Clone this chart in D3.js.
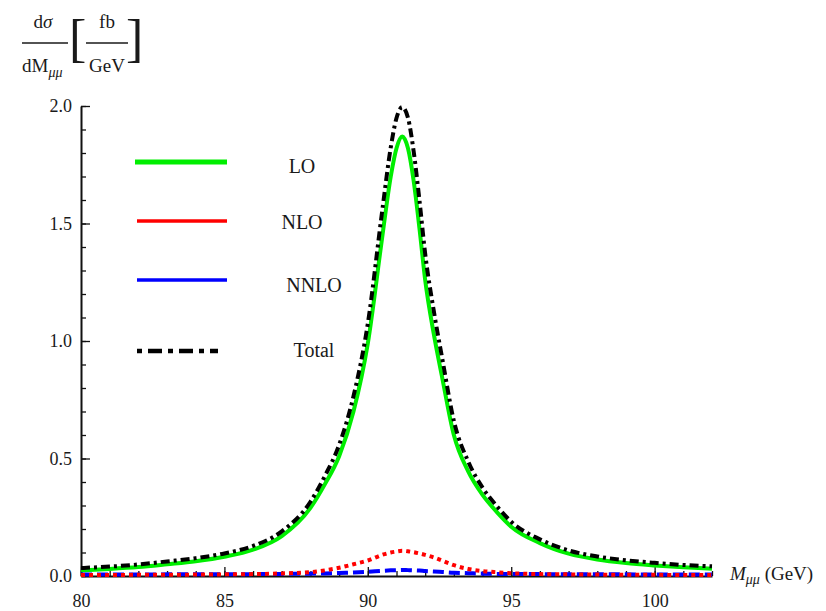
<!DOCTYPE html>
<html>
<head>
<meta charset="utf-8">
<script src="https://cdn.jsdelivr.net/npm/d3@7"></script>
<style>
  body { margin: 0; background: #fff; }
  text { font-family: "Liberation Serif", "DejaVu Serif", serif; fill: #1a1a1a; }
</style>
</head>
<body>
<script>
// values
var mass  = [80, 81, 82, 83, 84, 85, 86, 87, 88, 88.5, 89, 89.5, 90, 90.5, 90.8, 91, 91.2, 91.4, 91.6, 91.8, 92, 92.3, 92.6, 93, 93.5, 94, 94.5, 95, 96, 97, 98, 99, 100, 101, 102];
var lo    = [0.024, 0.030, 0.038, 0.050, 0.063, 0.082, 0.112, 0.170, 0.290, 0.390, 0.510, 0.700, 0.990, 1.440, 1.700, 1.820, 1.870, 1.820, 1.680, 1.480, 1.260, 1.030, 0.840, 0.600, 0.445, 0.345, 0.272, 0.210, 0.140, 0.095, 0.070, 0.055, 0.045, 0.037, 0.031];
var nlo   = [0.004, 0.004, 0.005, 0.005, 0.006, 0.007, 0.008, 0.011, 0.016, 0.024, 0.035, 0.050, 0.066, 0.090, 0.100, 0.104, 0.107, 0.105, 0.101, 0.096, 0.090, 0.079, 0.065, 0.046, 0.030, 0.021, 0.016, 0.012, 0.008, 0.007, 0.006, 0.005, 0.005, 0.004, 0.004];
var nnlo  = [0.006, 0.006, 0.006, 0.007, 0.007, 0.007, 0.008, 0.009, 0.010, 0.011, 0.013, 0.015, 0.018, 0.022, 0.024, 0.025, 0.026, 0.025, 0.024, 0.023, 0.021, 0.019, 0.017, 0.014, 0.012, 0.010, 0.009, 0.009, 0.008, 0.007, 0.007, 0.007, 0.006, 0.006, 0.006];
var total = [0.034, 0.040, 0.049, 0.062, 0.076, 0.096, 0.128, 0.190, 0.316, 0.425, 0.558, 0.765, 1.074, 1.552, 1.824, 1.949, 1.995, 1.950, 1.805, 1.599, 1.371, 1.128, 0.922, 0.660, 0.487, 0.376, 0.297, 0.231, 0.156, 0.109, 0.083, 0.067, 0.056, 0.047, 0.041];

var seriesNames = ["LO", "NLO", "NNLO", "Total"];
var xTicks = [80, 85, 90, 95, 100];
var yTicks = [0, 0.5, 1.0, 1.5, 2.0];

var width = 826, height = 611;

var svg = d3.select("body").append("svg")
    .attr("width", width)
    .attr("height", height);

var x = d3.scaleLinear().domain([80, 102]).range([81, 712]);
var y = d3.scaleLinear().domain([0, 2]).range([576, 106]);

// minor ticks
svg.append("g")
    .attr("transform", "translate(0," + y(0) + ")")
    .call(d3.axisBottom(x).tickValues(d3.range(80, 103, 1)).tickSize(-5).tickSizeOuter(0).tickFormat(""))
    .call(function(g) { g.select(".domain").remove(); });
svg.append("g")
    .attr("transform", "translate(" + x(80) + ",0)")
    .call(d3.axisLeft(y).tickValues(d3.range(0, 21).map(function(i) { return i / 10; })).tickSize(-5).tickSizeOuter(0).tickFormat(""))
    .call(function(g) { g.select(".domain").remove(); });

// main axes
var xAxis = svg.append("g")
    .attr("transform", "translate(0," + y(0) + ")")
    .call(d3.axisBottom(x).tickValues(xTicks).tickSize(-9).tickSizeOuter(0).tickPadding(18).tickFormat(d3.format("d")));
var yAxis = svg.append("g")
    .attr("transform", "translate(" + x(80) + ",0)")
    .call(d3.axisLeft(y).tickValues(yTicks).tickSize(-9).tickSizeOuter(0).tickPadding(9).tickFormat(d3.format(".1f")));

svg.selectAll(".domain").attr("stroke", "#111").attr("stroke-width", 2);
svg.selectAll(".tick line").attr("stroke", "#111").attr("stroke-width", 1.3);
svg.selectAll(".tick text").attr("font-size", 18).attr("fill", "#1a1a1a")
    .style("font-family", "'Liberation Serif', serif");

// curves
var rows = mass.map(function(m, i) {
    return { m: m, LO: lo[i], NLO: nlo[i], NNLO: nnlo[i], Total: total[i] };
});

var styles = {
    LO:    { color: "#00ee00", width: 4,   dash: null },
    NLO:   { color: "#ff0000", width: 4,   dash: "4,4" },
    NNLO:  { color: "#0000ff", width: 4,   dash: "11,5" },
    Total: { color: "#000000", width: 4,   dash: "9,4,3,4" }
};

var drawOrder = ["LO", "NNLO", "NLO", "Total"];
drawOrder.forEach(function(key) {
    var line = d3.line()
        .x(function(d) { return x(d.m); })
        .y(function(d) { return y(d[key]); })
        .curve(d3.curveMonotoneX);
    svg.append("path")
        .datum(rows)
        .attr("fill", "none")
        .attr("stroke", styles[key].color)
        .attr("stroke-width", styles[key].width)
        .attr("stroke-dasharray", styles[key].dash)
        .attr("d", line);
});

// legend
var legendLayout = [
    { y: 162, x1: 135, x2: 227, w: 5,   tx: 302, ty: 173, dash: null },
    { y: 221, x1: 137, x2: 227, w: 3.5, tx: 302, ty: 229, dash: null },
    { y: 280, x1: 137, x2: 227, w: 3.5, tx: 314, ty: 292, dash: null },
    { y: 351, x1: 137, x2: 218, w: 4.5, tx: 314, ty: 357, dash: "5,6,14,6" }
];
var legend = svg.append("g").selectAll("g")
    .data(seriesNames)
    .enter().append("g");
legend.append("line")
    .attr("x1", function(d, i) { return legendLayout[i].x1; })
    .attr("x2", function(d, i) { return legendLayout[i].x2; })
    .attr("y1", function(d, i) { return legendLayout[i].y; })
    .attr("y2", function(d, i) { return legendLayout[i].y; })
    .attr("stroke", function(d) { return styles[d].color; })
    .attr("stroke-width", function(d, i) { return legendLayout[i].w; })
    .attr("stroke-dasharray", function(d, i) { return legendLayout[i].dash; });
legend.append("text")
    .attr("x", function(d, i) { return legendLayout[i].tx; })
    .attr("y", function(d, i) { return legendLayout[i].ty; })
    .attr("text-anchor", "middle")
    .attr("font-size", 20)
    .text(function(d) { return d; });

// y label: dσ/dMμμ [fb/GeV]
var yl = svg.append("g").attr("font-size", 19);
var t1 = yl.append("text").attr("x", 43).attr("y", 28).attr("text-anchor", "middle");
t1.append("tspan").text("d");
t1.append("tspan").attr("font-style", "italic").text("σ");
yl.append("line").attr("x1", 22).attr("x2", 68).attr("y1", 43).attr("y2", 43)
    .attr("stroke", "#1a1a1a").attr("stroke-width", 1.3);
var t2 = yl.append("text").attr("x", 22).attr("y", 72);
t2.append("tspan").text("dM");
t2.append("tspan").attr("font-style", "italic").attr("font-size", 14).attr("dy", 5).text("μμ");
yl.append("text").attr("x", 69).attr("y", 56).attr("font-size", 52).text("[");
yl.append("text").attr("x", 107).attr("y", 28).attr("text-anchor", "middle").text("fb");
yl.append("line").attr("x1", 86).attr("x2", 128).attr("y1", 43).attr("y2", 43)
    .attr("stroke", "#1a1a1a").attr("stroke-width", 1.3);
yl.append("text").attr("x", 107).attr("y", 72).attr("text-anchor", "middle").text("GeV");
yl.append("text").attr("x", 126).attr("y", 56).attr("font-size", 52).text("]");

// x label: Mμμ (GeV)
var xl = svg.append("text").attr("x", 730).attr("y", 580).attr("font-size", 19);
xl.append("tspan").attr("font-style", "italic").text("M");
xl.append("tspan").attr("font-style", "italic").attr("font-size", 14).attr("dy", 4).text("μμ");
xl.append("tspan").attr("dy", -4).text(" (GeV)");
</script>
</body>
</html>
